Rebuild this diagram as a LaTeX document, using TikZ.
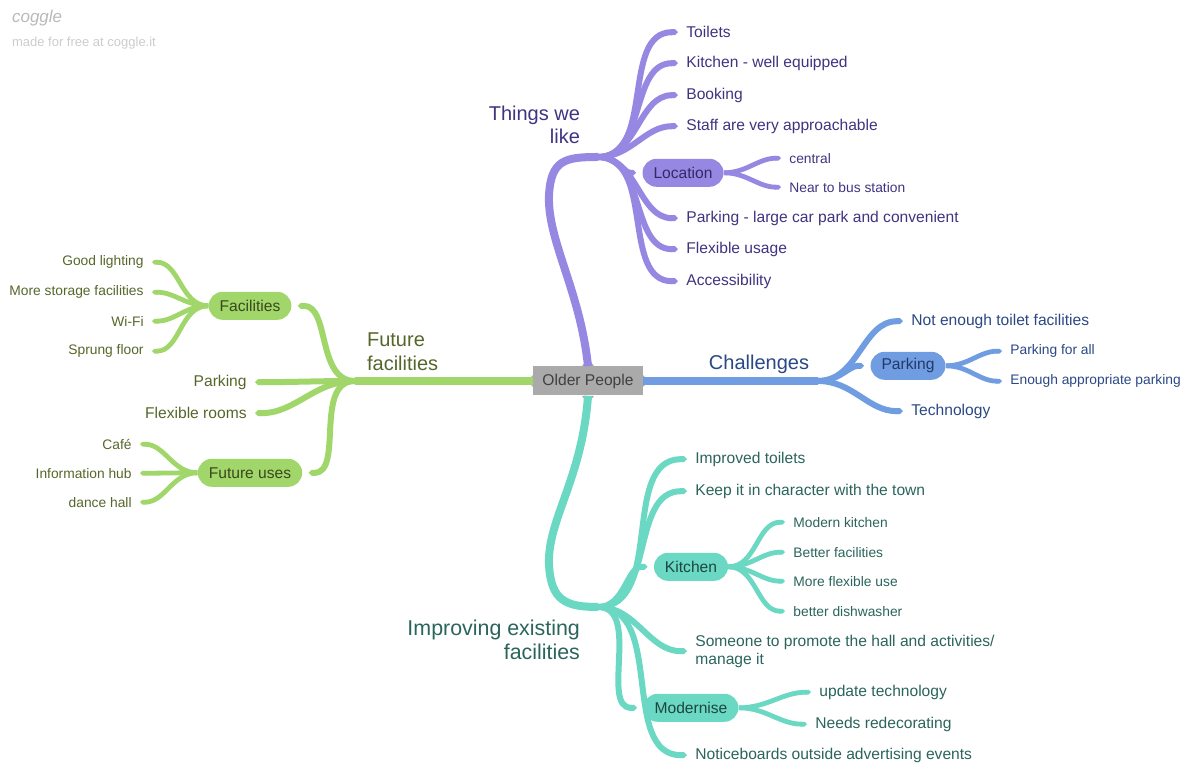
\documentclass[tikz,border=0pt]{standalone}
\usepackage{fontspec}
\setmainfont{Liberation Sans}
\usepackage{xcolor}
\usetikzlibrary{arrows.meta}

\definecolor{likeC}{RGB}{150,136,226}
\definecolor{likeT}{RGB}{62,52,128}
\definecolor{chalC}{RGB}{112,156,226}
\definecolor{chalT}{RGB}{42,72,132}
\definecolor{futC}{RGB}{160,214,106}
\definecolor{futT}{RGB}{86,102,42}
\definecolor{impC}{RGB}{106,216,194}
\definecolor{impT}{RGB}{42,100,92}
\definecolor{centreC}{RGB}{170,170,170}

\begin{document}
\begin{tikzpicture}[x=0.5pt, y=-0.5pt,
    leaf/.style  = {anchor=west, inner xsep=4pt, inner ysep=1pt, yshift=-0.6pt, font=\fontsize{7.8}{9}\selectfont},
    leafl/.style = {leaf, anchor=east},
    small/.style = {font=\fontsize{6.9}{8}\selectfont},
    box/.style   = {rounded corners=7pt, minimum height=14pt, inner xsep=5.5pt, yshift=-0.4pt, font=\fontsize{7.8}{9}\selectfont},
    main/.style  = {font=\fontsize{10}{11.8}\selectfont},
    trunk/.style = {line width=4pt},
    br/.style    = {line width=3pt, -{Triangle Cap}},
    sbr/.style   = {line width=2.4pt, -{Triangle Cap}}
  ]
    \useasboundingbox (0,0) rectangle (1187,763);

    % watermark
    \node[anchor=west, text=gray!55, font=\fontsize{8.5}{10}\itshape] (logo) at (5,18) {coggle};
    \node[anchor=west, text=gray!40, font=\fontsize{6.5}{8}\selectfont] (made) at (5,43) {made for free at coggle.it};

    % centre
    \node[fill=centreC, text=black!75, minimum height=14.5pt, inner xsep=4.5pt,
          font=\fontsize{7.8}{9}\selectfont] (op) at (588,381) {Older People};
    \fill[centreC] ([xshift=-3pt]op.north) -- ([yshift=4pt]op.north) -- ([xshift=3pt]op.north) -- cycle;
    \fill[centreC] ([xshift=-3pt]op.south) -- ([yshift=-4pt]op.south) -- ([xshift=3pt]op.south) -- cycle;
    \fill[centreC] ([yshift=-3pt]op.west) -- ([xshift=-3pt]op.west) -- ([yshift=3pt]op.west) -- cycle;
    \fill[centreC] ([yshift=-3pt]op.east) -- ([xshift=3pt]op.east) -- ([yshift=3pt]op.east) -- cycle;

    % Things we like
    \begin{scope}[every node/.append style={text=likeT}]
      \coordinate (likeJ) at (598,157);
      \node[main, align=right, anchor=east] (like) at (587,125) {Things we\\like};
      \node[leaf] (toil) at (678,31)  {Toilets};
      \node[leaf] (kit)  at (678,62)  {Kitchen - well equipped};
      \node[leaf] (book) at (678,94)  {Booking};
      \node[leaf] (staff) at (678,125) {Staff are very approachable};
      \node[box, fill=likeC, text=likeT!80!black] (loc) at (683,172) {Location};
      \node[leaf] (park) at (678,217) {Parking - large car park and convenient};
      \node[leaf] (flex) at (678,248) {Flexible usage};
      \node[leaf] (acc)  at (678,280) {Accessibility};
      \node[leaf, small] (cen)  at (781,157) {central};
      \node[leaf, small] (bus)  at (781,186) {Near to bus station};

      \draw[trunk, likeC] (op.north) .. controls (580,290) and (547,240) .. (549,195)
                               .. controls (551,160) and (565,157) .. (likeJ);
      \foreach \n in {toil,kit,book,staff,park,flex,acc}
        \draw[br, likeC] (likeJ) to[out=0,in=180] (\n.west);
      \draw[br, likeC, shorten >=3pt] (likeJ) to[out=0,in=180] (loc.west);
      \foreach \n in {cen,bus}
        \draw[sbr, likeC] (loc.east) to[out=0,in=180] (\n.west);
    \end{scope}

    % Challenges
    \begin{scope}[every node/.append style={text=chalT}]
      \coordinate (chalJ) at (818,381);
      \node[main] (chal) at (759,364) {Challenges};
      \node[leaf] (toil2) at (903,320) {Not enough toilet facilities};
      \node[box, fill=chalC, text=chalT!80!black] (cpark) at (908,365) {Parking};
      \node[leaf] (tech)  at (903,410) {Technology};
      \node[leaf, small] (all) at (1002,350) {Parking for all};
      \node[leaf, small] (enough) at (1002,380) {Enough appropriate parking};

      \draw[trunk, chalC] (op.east) -- (chalJ);
      \foreach \n in {toil2,tech}
        \draw[br, chalC] (chalJ) to[out=0,in=180] (\n.west);
      \draw[br, chalC, shorten >=3pt] (chalJ) to[out=0,in=180] (cpark.west);
      \foreach \n in {all,enough}
        \draw[sbr, chalC] (cpark.east) to[out=0,in=180] (\n.west);
    \end{scope}

    % Future facilities
    \begin{scope}[every node/.append style={text=futT}]
      \coordinate (futJ) at (355,381);
      \node[main, align=left, anchor=west] (fut) at (360,352) {Future\\facilities};
      \node[box, fill=futC, text=futT!70!black] (fac) at (250,305) {Facilities};
      \node[leafl] (fpark) at (255,381) {Parking};
      \node[leafl] (rooms) at (255,412) {Flexible rooms};
      \node[box, fill=futC, text=futT!70!black] (uses) at (250,472) {Future uses};
      \node[leafl, small] (light) at (152,261) {Good lighting};
      \node[leafl, small] (store) at (152,291) {More storage facilities};
      \node[leafl, small] (wifi)  at (152,320) {Wi-Fi};
      \node[leafl, small] (floor) at (152,350) {Sprung floor};
      \node[leafl, small] (cafe)  at (140,443) {Café};
      \node[leafl, small] (info)  at (140,472) {Information hub};
      \node[leafl, small] (dance) at (140,501) {dance hall};

      \draw[trunk, futC] (op.west) -- (futJ);
      \foreach \n in {fpark,rooms}
        \draw[br, futC] (futJ) to[out=180,in=0] (\n.east);
      \foreach \n in {fac,uses}
        \draw[br, futC, shorten >=3pt] (futJ) to[out=180,in=0] (\n.east);
      \foreach \n in {light,store,wifi,floor}
        \draw[sbr, futC] (fac.west) to[out=180,in=0] (\n.east);
      \foreach \n in {cafe,info,dance}
        \draw[sbr, futC] (uses.west) to[out=180,in=0] (\n.east);
    \end{scope}

    % Improving existing facilities
    \begin{scope}[every node/.append style={text=impT}]
      \coordinate (impJ) at (598,607);
      \node[main, align=right, anchor=east, font=\fontsize{10.7}{12}\selectfont] (imp) at (587,640) {Improving existing\\facilities};
      \node[leaf] (itoil) at (687,458) {Improved toilets};
      \node[leaf] (keep)  at (687,490) {Keep it in character with the town};
      \node[box, fill=impC, text=impT!70!black] (kitch) at (691,566) {Kitchen};
      \node[leaf, align=left] (promo) at (687,650) {Someone to promote the hall and activities/\\manage it};
      \node[box, fill=impC, text=impT!70!black] (modern) at (691,707) {Modernise};
      \node[leaf] (notice) at (687,754) {Noticeboards outside advertising events};
      \node[leaf, small] (mk)   at (785,521) {Modern kitchen};
      \node[leaf, small] (bf)   at (785,551) {Better facilities};
      \node[leaf, small] (mfu)  at (785,580) {More flexible use};
      \node[leaf, small] (dish) at (785,610) {better dishwasher};
      \node[leaf] (upd)  at (811,691) {update technology};
      \node[leaf] (redec) at (807,723) {Needs redecorating};

      \draw[trunk, impC] (op.south) .. controls (582,480) and (547,520) .. (549,565)
                              .. controls (551,600) and (565,607) .. (impJ);
      \foreach \n in {itoil,keep,promo,notice}
        \draw[br, impC] (impJ) to[out=0,in=180] (\n.west);
      \foreach \n in {kitch,modern}
        \draw[br, impC, shorten >=3pt] (impJ) to[out=0,in=180] (\n.west);
      \foreach \n in {mk,bf,mfu,dish}
        \draw[sbr, impC] (kitch.east) to[out=0,in=180] (\n.west);
      \foreach \n in {upd,redec}
        \draw[sbr, impC] (modern.east) to[out=0,in=180] (\n.west);
    \end{scope}
\end{tikzpicture}
\end{document}
